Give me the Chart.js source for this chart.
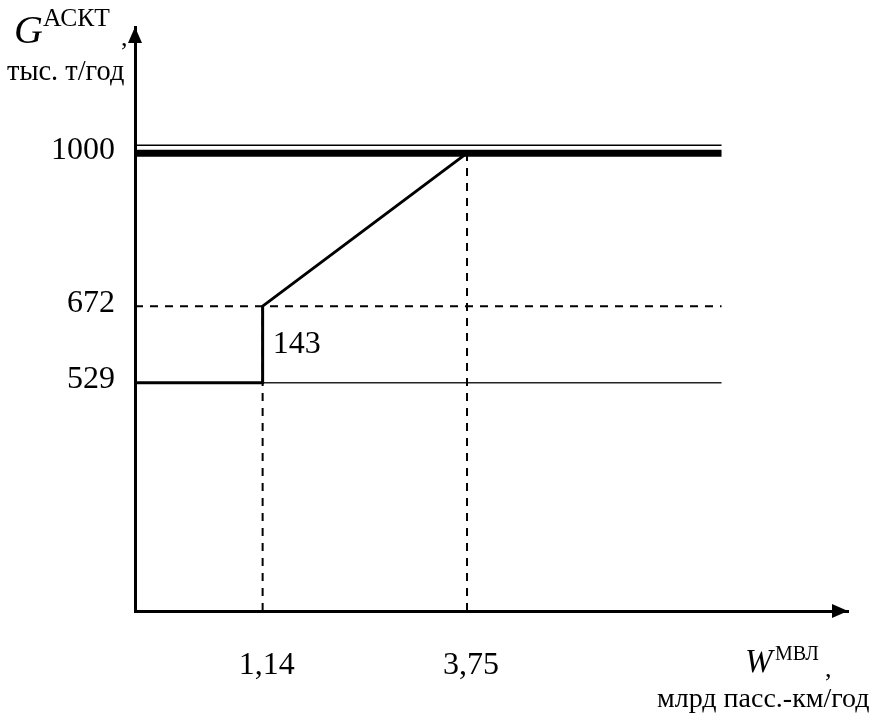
<!DOCTYPE html>
<html>
<head>
<meta charset="utf-8">
<script src="https://cdn.jsdelivr.net/npm/chart.js@4"></script>
<style>
html, body { margin: 0; padding: 0; background: #fff; }
#wrap { width: 875px; height: 715px; }
</style>
</head>
<body>
<div id="wrap"><canvas id="Chart1"></canvas></div>
<script>
// values
const curveW = [0, 1.14, 1.14, 3.75];
const curveG = [529, 529, 672, 1000];
const capW = [0, 7];
const capG = [1000, 1000];
const baseW = [1.14, 7];
const baseG = [529, 529];
const levelW = [0, 7];
const levelG = [672, 672];
const guideW = [1.14, 3.75];
const guideG = [672, 1000];
const xTicks = [1.14, 3.75];
const xTickLabels = ['1,14', '3,75'];
const yTicks = [529, 672, 1000];
const yTickLabels = ['529', '672', '1000'];
const stepLabel = '143';

const serif = "'Liberation Serif', 'Times New Roman', serif";

// The picture is a scheme, not to scale: this scale maps values piecewise
// through a few anchor points (value, fraction of the axis length).
class SchematicScale extends Chart.LinearScale {
  toDecimal(value) {
    const a = this.options.anchors;
    if (value <= a[0][0]) return a[0][1];
    for (let i = 1; i < a.length; i++) {
      if (value <= a[i][0]) {
        const t = (value - a[i - 1][0]) / (a[i][0] - a[i - 1][0]);
        return a[i - 1][1] + t * (a[i][1] - a[i - 1][1]);
      }
    }
    return a[a.length - 1][1];
  }
  getPixelForValue(value) {
    if (value === null || value === undefined) return NaN;
    return this.getPixelForDecimal(this.toDecimal(value));
  }
  getValueForPixel(pixel) {
    const a = this.options.anchors;
    const d = this.getDecimalForPixel(pixel);
    for (let i = 1; i < a.length; i++) {
      if (d <= a[i][1]) {
        const t = (d - a[i - 1][1]) / (a[i][1] - a[i - 1][1]);
        return a[i - 1][0] + t * (a[i][0] - a[i - 1][0]);
      }
    }
    return a[a.length - 1][0];
  }
}
SchematicScale.id = 'schematic';
SchematicScale.defaults = Chart.LinearScale.defaults;
Chart.register(SchematicScale);

function pts(xs, ys) {
  return xs.map((x, i) => ({ x: x, y: ys[i] }));
}

const decor = {
  id: 'decor',
  afterDraw(chart) {
    const ctx = chart.ctx;
    const a = chart.chartArea;
    const x = chart.scales.x;
    const y = chart.scales.y;
    ctx.save();
    ctx.fillStyle = '#000';
    ctx.strokeStyle = '#000';

    // arrow heads
    ctx.beginPath();
    ctx.moveTo(a.left, a.top);
    ctx.lineTo(a.left - 7, a.top + 16);
    ctx.lineTo(a.left + 7, a.top + 16);
    ctx.closePath();
    ctx.fill();
    ctx.beginPath();
    ctx.moveTo(a.right, a.bottom);
    ctx.lineTo(a.right - 16, a.bottom - 7);
    ctx.lineTo(a.right - 16, a.bottom + 7);
    ctx.closePath();
    ctx.fill();

    // thin rule over the capacity line (double line)
    const yc = y.getPixelForValue(capG[0]) - 8;
    ctx.lineWidth = 1.5;
    ctx.beginPath();
    ctx.moveTo(x.getPixelForValue(capW[0]), yc);
    ctx.lineTo(x.getPixelForValue(capW[1]), yc);
    ctx.stroke();

    // step size label
    ctx.font = '32px ' + serif;
    ctx.textBaseline = 'alphabetic';
    ctx.textAlign = 'left';
    const ym = (y.getPixelForValue(curveG[1]) + y.getPixelForValue(curveG[2])) / 2;
    ctx.fillText(stepLabel, x.getPixelForValue(curveW[1]) + 10, ym + 9);

    // axis titles
    ctx.font = 'italic 40px ' + serif;
    ctx.fillText('G', 14, 43);
    ctx.font = '25.5px ' + serif;
    ctx.fillText('АСКТ', 43, 26);
    ctx.font = '26px ' + serif;
    ctx.fillText(',', 121, 46);
    ctx.font = '28.4px ' + serif;
    ctx.fillText('тыс. т/год', 7, 80);

    ctx.font = 'italic 33px ' + serif;
    ctx.fillText('W', 745, 672);
    ctx.font = '20px ' + serif;
    ctx.fillText('МВЛ', 775, 660);
    ctx.font = '26px ' + serif;
    ctx.fillText(',', 825, 677);
    ctx.font = '28px ' + serif;
    ctx.fillText('млрд пасс.-км/год', 657, 707);
    ctx.restore();
  }
};

const common = { showLine: true, pointRadius: 0, borderColor: '#000', fill: false, tension: 0 };
const dashed = { borderDash: [8, 7], borderWidth: 2 };

const ctx = document.getElementById('Chart1').getContext('2d');
const myChart = new Chart(ctx, {
  type: 'scatter',
  data: {
    datasets: [
      Object.assign({ data: pts(levelW, levelG) }, common, dashed),
      Object.assign({ data: [{ x: guideW[0], y: 0 }, { x: guideW[0], y: guideG[0] }] }, common, dashed),
      Object.assign({ data: [{ x: guideW[1], y: 0 }, { x: guideW[1], y: guideG[1] }] }, common, dashed),
      Object.assign({ data: pts(baseW, baseG) }, common, { borderWidth: 1.5, borderColor: '#222' }),
      Object.assign({ data: pts(curveW, curveG) }, common, { borderWidth: 3 }),
      Object.assign({ data: pts(capW, capG) }, common, { borderWidth: 7 })
    ]
  },
  options: {
    responsive: true,
    maintainAspectRatio: false,
    animation: false,
    layout: { padding: { top: 27, right: 27, left: 0, bottom: 0 } },
    plugins: {
      legend: { display: false },
      tooltip: { enabled: false }
    },
    scales: {
      x: {
        type: 'schematic',
        anchors: [[0, 0], [1.14, 0.179], [8.615, 1]],
        min: 0,
        max: 8.615,
        grid: { display: false, drawTicks: false },
        border: { display: true, width: 3, color: '#000' },
        afterBuildTicks: function(s) { s.ticks = xTicks.map(v => ({ value: v })); },
        afterFit: function(s) { s.height = 104; s.paddingLeft = 0; s.paddingRight = 0; },
        ticks: {
          callback: function(value, index) { return xTickLabels[index]; },
          color: '#000',
          font: { family: serif, size: 32 },
          padding: 35,
          labelOffset: 4,
          maxRotation: 0,
          autoSkip: false
        }
      },
      y: {
        type: 'schematic',
        anchors: [[0, 0], [529, 0.391], [672, 0.522], [1000, 0.784], [1270, 1]],
        min: 0,
        max: 1270,
        grid: { display: false, drawTicks: false },
        border: { display: true, width: 3, color: '#000' },
        afterBuildTicks: function(s) { s.ticks = yTicks.map(v => ({ value: v })); },
        afterFit: function(s) { s.width = 135; s.paddingTop = 0; s.paddingBottom = 0; },
        ticks: {
          callback: function(value, index) { return yTickLabels[index]; },
          color: '#000',
          font: { family: serif, size: 32 },
          padding: 20,
          labelOffset: -3,
          autoSkip: false
        }
      }
    }
  },
  plugins: [decor]
});
</script>
</body>
</html>
